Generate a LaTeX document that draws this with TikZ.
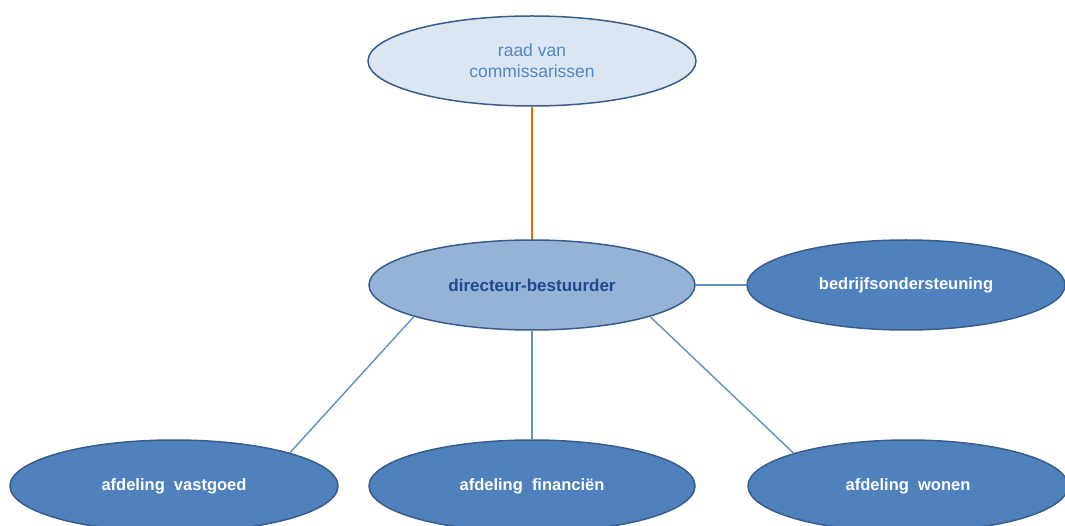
\documentclass[tikz,border=0pt]{standalone}
\usepackage{fontspec}
\setmainfont{Liberation Sans}
\usetikzlibrary{shapes.geometric}
\definecolor{rimColor}{RGB}{56,93,138}
\definecolor{paleFill}{RGB}{220,230,242}
\definecolor{midFill}{RGB}{149,179,215}
\definecolor{deepFill}{RGB}{79,129,189}
\definecolor{lineColor}{RGB}{98,143,199}
\definecolor{orangeColor}{RGB}{228,108,10}
\definecolor{darkText}{RGB}{31,73,145}
\definecolor{lightText}{RGB}{84,134,196}
\begin{document}
\begin{tikzpicture}[x=1pt,y=1pt,
  unit/.style={ellipse,draw=rimColor,line width=1.5pt,inner sep=0pt,
    minimum width=326pt,minimum height=90pt,fill=deepFill,text=white,
    font=\fontsize{16.5}{20}\selectfont\bfseries,align=center},
  link/.style={draw=lineColor,line width=1.4pt}]
\useasboundingbox (0,0) rectangle (1065,525);
\begin{scope}
\clip (0,0) rectangle (1065,525);
\fill[white] (0,0) rectangle (1065,525);

% top: supervisory board and director
\node[unit,fill=paleFill,text=lightText,minimum width=328pt,
  font=\fontsize{17.5}{21}\selectfont] (raad) at (532,464) {raad van\\commissarissen};
\node[unit,fill=midFill,text=darkText,font=\fontsize{17}{20}\selectfont\bfseries] (dir) at (532,240) {directeur-bestuurder};
\node[unit,minimum width=318pt] (bedr) at (906,240) {bedrijfsondersteuning};

% departments
\node[unit,minimum width=328pt,minimum height=92pt] (vast) at (174,39) {afdeling\ \ vastgoed};
\node[unit,minimum height=92pt] (fin) at (532,39) {afdeling\ \ financi\"en};
\node[unit,minimum width=320pt,minimum height=92pt] (won) at (908,39) {afdeling\ \ wonen};

\draw[draw=orangeColor,line width=1.7pt] (raad.south) -- (dir.north);
\draw[link] (dir.195) -- (vast.16);
\draw[link] (dir.south) -- (fin.north);
\draw[link] (dir.345) -- (won.164);
\draw[link] (dir.east) -- (bedr.west);
\end{scope}
\end{tikzpicture}
\end{document}
